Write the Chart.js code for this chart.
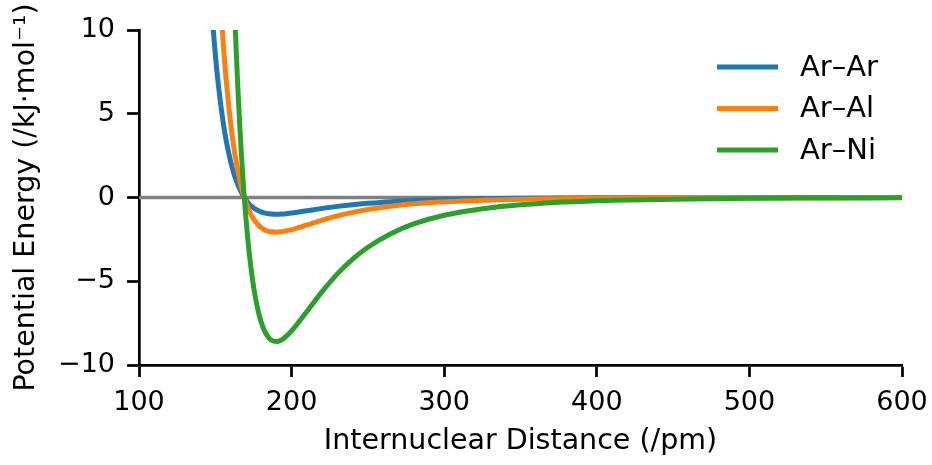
<!DOCTYPE html>
<html>
<head>
<meta charset="utf-8">
<script src="https://cdn.jsdelivr.net/npm/chart.js@4.4.1/dist/chart.umd.min.js"></script>
<style>
  html, body { margin: 0; padding: 0; background: #fff; }
  #wrap { width: 932px; height: 465px; }
</style>
</head>
<body>
<div id="wrap"><canvas id="ljChart" width="932" height="465"></canvas></div>
<script>
const distances = [
  145, 147, 150, 152, 155, 157, 160, 161, 162, 163, 164, 165, 166, 167, 168, 169,
  170, 171, 172, 173, 174, 175, 176, 177, 178, 180, 182, 185, 187, 190, 193, 195,
  200, 210, 220, 230, 240, 250, 265, 280, 300, 325, 350, 400, 450, 500, 550, 600
];

const arAr = [
  15.11, 12.09, 8.55, 6.72, 4.57, 3.46, 2.16, 1.81, 1.49, 1.20, 0.95, 0.71, 0.51, 0.32, 0.15, 0,
  -0.13, -0.25, -0.36, -0.46, -0.54, -0.61, -0.68, -0.73, -0.78, -0.86, -0.92, -0.97, -0.99, -1.00, -0.99, -0.98,
  -0.93, -0.79, -0.65, -0.53, -0.43, -0.35, -0.25, -0.18, -0.12, -0.08, -0.05, -0.02, -0.01, -0.01, 0, 0
];

const arAl = [
  31.27, 25.03, 17.70, 13.91, 9.46, 7.16, 4.47, 3.74, 3.08, 2.49, 1.96, 1.48, 1.05, 0.66, 0.31, 0,
  -0.28, -0.53, -0.75, -0.94, -1.12, -1.27, -1.40, -1.52, -1.62, -1.79, -1.91, -2.02, -2.05, -2.07, -2.05, -2.02,
  -1.92, -1.64, -1.35, -1.10, -0.89, -0.71, -0.52, -0.38, -0.26, -0.16, -0.10, -0.05, -0.02, -0.01, -0.01, 0
];

const arNi = [
  129.9, 104.0, 73.5, 57.8, 39.3, 29.74, 18.57, 15.54, 12.81, 10.35, 8.13, 6.14, 4.35, 2.74, 1.29, 0,
  -1.15, -2.19, -3.10, -3.91, -4.64, -5.27, -5.83, -6.32, -6.74, -7.42, -7.92, -8.37, -8.53, -8.60, -8.52, -8.40,
  -7.96, -6.81, -5.62, -4.56, -3.68, -2.97, -2.16, -1.58, -1.06, -0.67, -0.43, -0.19, -0.10, -0.05, -0.03, -0.02
];

const seriesNames = ['Ar\u2013Ar', 'Ar\u2013Al', 'Ar\u2013Ni'];
const seriesColors = ['#1f77b4', '#ff7f0e', '#2ca02c'];

const xRange = [100, 600];
const yRange = [-10, 10];

const FONT = 'DejaVu Sans';

function toPoints(ys) {
  return distances.map((x, i) => ({ x: x, y: ys[i] }));
}

const curveSets = [arAr, arAl, arNi].map((ys, i) => ({
  label: seriesNames[i],
  data: toPoints(ys),
  borderColor: seriesColors[i],
  borderWidth: 5,
  pointRadius: 0,
  cubicInterpolationMode: 'monotone',
  order: 3 - i
}));

const zeroLine = {
  label: 'zero',
  data: [{ x: xRange[0], y: 0 }, { x: xRange[1], y: 0 }],
  borderColor: '#808080',
  borderWidth: 3.5,
  pointRadius: 0,
  order: 10
};

// matplotlib-style legend in the upper right corner of the plot area
const cornerLegend = {
  id: 'cornerLegend',
  afterDraw(chart) {
    const ctx = chart.ctx;
    const area = chart.chartArea;
    const x0 = area.right - 185;
    ctx.save();
    ctx.font = '29px "' + FONT + '"';
    ctx.textBaseline = 'middle';
    seriesNames.forEach((name, i) => {
      const y = area.top + 37 + i * 41.5;
      ctx.strokeStyle = seriesColors[i];
      ctx.lineWidth = 5;
      ctx.beginPath();
      ctx.moveTo(x0, y);
      ctx.lineTo(x0 + 61, y);
      ctx.stroke();
      ctx.fillStyle = '#000';
      ctx.fillText(name, x0 + 83, y + 1);
    });
    ctx.restore();
  }
};

const minus = v => String(v).replace('-', '\u2212');

new Chart(document.getElementById('ljChart').getContext('2d'), {
  type: 'line',
  data: { datasets: [zeroLine, ...curveSets] },
  options: {
    responsive: false,
    animation: false,
    layout: { padding: { top: 30, right: 30, left: 0, bottom: 0 } },
    plugins: {
      legend: { display: false },
      tooltip: { enabled: false }
    },
    scales: {
      x: {
        type: 'linear',
        min: xRange[0],
        max: xRange[1],
        afterFit: s => { s.height = 100; s.paddingLeft = 0; s.paddingRight = 0; },
        border: { display: true, color: '#000', width: 2.7 },
        grid: { drawOnChartArea: false, drawTicks: true, tickLength: 12, tickWidth: 2.7, tickColor: '#000' },
        ticks: {
          stepSize: 100,
          color: '#000',
          padding: 10,
          maxRotation: 0,
          font: { family: FONT, size: 27 },
          callback: v => minus(v)
        },
        title: {
          display: true,
          text: 'Internuclear Distance (/pm)',
          color: '#000',
          font: { family: FONT, size: 28.5 },
          padding: { top: 0, bottom: 6 }
        }
      },
      y: {
        min: yRange[0],
        max: yRange[1],
        afterFit: s => { s.width = 139; s.paddingTop = 0; s.paddingBottom = 0; },
        border: { display: true, color: '#000', width: 2.7 },
        grid: { drawOnChartArea: false, drawTicks: true, tickLength: 12, tickWidth: 2.7, tickColor: '#000' },
        ticks: {
          stepSize: 5,
          color: '#000',
          padding: 12,
          font: { family: FONT, size: 27 },
          callback: v => minus(v)
        },
        title: {
          display: true,
          text: 'Potential Energy (/kJ\u00b7mol\u207b\u00b9)',
          color: '#000',
          font: { family: FONT, size: 28.5 },
          padding: { top: 9, bottom: 0 }
        }
      }
    }
  },
  plugins: [cornerLegend]
});
</script>
</body>
</html>
